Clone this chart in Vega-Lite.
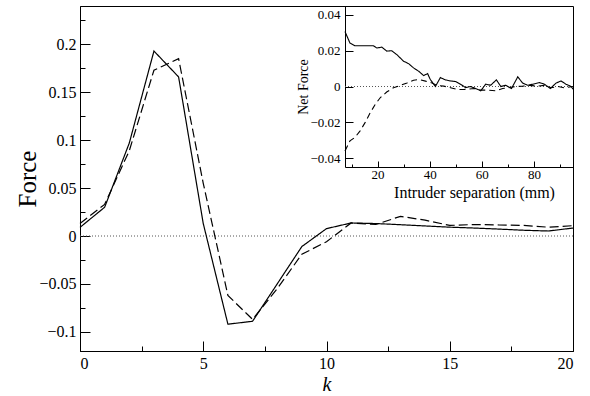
{
  "$schema": "https://vega.github.io/schema/vega-lite/v6.json",
  "width": 493,
  "height": 345,
  "autosize": {"type": "none"},
  "padding": {"left": 80, "top": 6, "right": 17, "bottom": 45},
  "background": "white",
  "config": {
    "view": {"stroke": "#000", "strokeWidth": 1},
    "font": "Liberation Serif, Times New Roman, serif",
    "axis": {"grid": false, "domainColor": "#000", "tickColor": "#000", "labelColor": "#000", "titleColor": "#000", "labelFont": "Liberation Serif, Times New Roman, serif", "titleFont": "Liberation Serif, Times New Roman, serif", "titleFontWeight": "normal"}
  },
  "datasets": {
    "main": [
      {"k": 0, "series": "a", "force": 0.009}, {"k": 1, "series": "a", "force": 0.03}, {"k": 2, "series": "a", "force": 0.097}, {"k": 3, "series": "a", "force": 0.193}, {"k": 4, "series": "a", "force": 0.166}, {"k": 5, "series": "a", "force": 0.013}, {"k": 6, "series": "a", "force": -0.092}, {"k": 7, "series": "a", "force": -0.089}, {"k": 8, "series": "a", "force": -0.05}, {"k": 9, "series": "a", "force": -0.011}, {"k": 10, "series": "a", "force": 0.0077}, {"k": 11, "series": "a", "force": 0.0136}, {"k": 12, "series": "a", "force": 0.013}, {"k": 13, "series": "a", "force": 0.0118}, {"k": 14, "series": "a", "force": 0.0105}, {"k": 15, "series": "a", "force": 0.0092}, {"k": 16, "series": "a", "force": 0.0083}, {"k": 17, "series": "a", "force": 0.0072}, {"k": 18, "series": "a", "force": 0.006}, {"k": 19, "series": "a", "force": 0.0052}, {"k": 20, "series": "a", "force": 0.0083},
      {"k": 0, "series": "b", "force": 0.013}, {"k": 1, "series": "b", "force": 0.033}, {"k": 2, "series": "b", "force": 0.089}, {"k": 3, "series": "b", "force": 0.173}, {"k": 4, "series": "b", "force": 0.185}, {"k": 5, "series": "b", "force": 0.055}, {"k": 6, "series": "b", "force": -0.062}, {"k": 7, "series": "b", "force": -0.087}, {"k": 8, "series": "b", "force": -0.055}, {"k": 9, "series": "b", "force": -0.019}, {"k": 10, "series": "b", "force": -0.006}, {"k": 11, "series": "b", "force": 0.0136}, {"k": 12, "series": "b", "force": 0.012}, {"k": 13, "series": "b", "force": 0.0205}, {"k": 14, "series": "b", "force": 0.0165}, {"k": 15, "series": "b", "force": 0.011}, {"k": 16, "series": "b", "force": 0.012}, {"k": 17, "series": "b", "force": 0.0115}, {"k": 18, "series": "b", "force": 0.011}, {"k": 19, "series": "b", "force": 0.0092}, {"k": 20, "series": "b", "force": 0.0108}
    ],
    "inset": [
      {"sep": 7.5, "series": "a", "net": 0.0307}, {"sep": 9.4, "series": "a", "net": 0.0243}, {"sep": 11.3, "series": "a", "net": 0.0228}, {"sep": 18.4, "series": "a", "net": 0.0228}, {"sep": 19.7, "series": "a", "net": 0.0215}, {"sep": 21.6, "series": "a", "net": 0.022}, {"sep": 23.5, "series": "a", "net": 0.0198}, {"sep": 25.4, "series": "a", "net": 0.02}, {"sep": 27.4, "series": "a", "net": 0.0178}, {"sep": 30, "series": "a", "net": 0.0141}, {"sep": 31.9, "series": "a", "net": 0.0128}, {"sep": 33.8, "series": "a", "net": 0.0104}, {"sep": 35.8, "series": "a", "net": 0.0085}, {"sep": 37.7, "series": "a", "net": 0.0061}, {"sep": 39.2, "series": "a", "net": 0.0072}, {"sep": 40.2, "series": "a", "net": 0.004}, {"sep": 42.2, "series": "a", "net": 0.0}, {"sep": 44.1, "series": "a", "net": 0.005}, {"sep": 46, "series": "a", "net": 0.0037}, {"sep": 48, "series": "a", "net": 0.0031}, {"sep": 49.9, "series": "a", "net": 0.0028}, {"sep": 51.8, "series": "a", "net": 0.0013}, {"sep": 53.8, "series": "a", "net": -0.0006}, {"sep": 55.7, "series": "a", "net": 0.0}, {"sep": 57.6, "series": "a", "net": -0.0011}, {"sep": 59.6, "series": "a", "net": -0.0024}, {"sep": 61.5, "series": "a", "net": 0.0013}, {"sep": 63.4, "series": "a", "net": 0.0007}, {"sep": 65.6, "series": "a", "net": 0.0037}, {"sep": 67.3, "series": "a", "net": 0.0}, {"sep": 69.2, "series": "a", "net": 0.0007}, {"sep": 71.4, "series": "a", "net": -0.0011}, {"sep": 73.8, "series": "a", "net": 0.0054}, {"sep": 75.7, "series": "a", "net": 0.0019}, {"sep": 77.6, "series": "a", "net": 0.0007}, {"sep": 79.6, "series": "a", "net": 0.0013}, {"sep": 82.1, "series": "a", "net": 0.0022}, {"sep": 84, "series": "a", "net": 0.0013}, {"sep": 86.3, "series": "a", "net": -0.0011}, {"sep": 88.5, "series": "a", "net": 0.0019}, {"sep": 90.4, "series": "a", "net": 0.0031}, {"sep": 92.3, "series": "a", "net": 0.0013}, {"sep": 94.3, "series": "a", "net": 0.0}, {"sep": 95, "series": "a", "net": -0.0015},
      {"sep": 7.5, "series": "b", "net": -0.036}, {"sep": 9.4, "series": "b", "net": -0.0304}, {"sep": 11.3, "series": "b", "net": -0.0285}, {"sep": 13.3, "series": "b", "net": -0.0248}, {"sep": 15.2, "series": "b", "net": -0.0202}, {"sep": 17.2, "series": "b", "net": -0.0146}, {"sep": 19.1, "series": "b", "net": -0.01}, {"sep": 21, "series": "b", "net": -0.0063}, {"sep": 23.5, "series": "b", "net": -0.0031}, {"sep": 26.1, "series": "b", "net": -0.0007}, {"sep": 28.7, "series": "b", "net": 0.0006}, {"sep": 31.3, "series": "b", "net": 0.002}, {"sep": 33.8, "series": "b", "net": 0.0035}, {"sep": 35.8, "series": "b", "net": 0.0039}, {"sep": 38.4, "series": "b", "net": 0.003}, {"sep": 40.9, "series": "b", "net": 0.002}, {"sep": 42.8, "series": "b", "net": 0.0006}, {"sep": 45.4, "series": "b", "net": 0.0002}, {"sep": 48, "series": "b", "net": -0.0007}, {"sep": 50.6, "series": "b", "net": -0.0017}, {"sep": 53.1, "series": "b", "net": -0.0017}, {"sep": 57, "series": "b", "net": -0.0011}, {"sep": 59.6, "series": "b", "net": -0.002}, {"sep": 62.1, "series": "b", "net": -0.002}, {"sep": 65.4, "series": "b", "net": -0.0024}, {"sep": 68, "series": "b", "net": -0.0011}, {"sep": 70.6, "series": "b", "net": -0.0006}, {"sep": 73.1, "series": "b", "net": 0.0}, {"sep": 75.7, "series": "b", "net": 0.0002}, {"sep": 78.3, "series": "b", "net": 0.0006}, {"sep": 81.5, "series": "b", "net": 0.0002}, {"sep": 84, "series": "b", "net": 0.0006}, {"sep": 86.6, "series": "b", "net": -0.0007}, {"sep": 89.2, "series": "b", "net": 0.0}, {"sep": 91.7, "series": "b", "net": -0.0007}, {"sep": 95, "series": "b", "net": 0.0}
    ]
  },
  "layer": [
    {
      "data": {"values": [{}]},
      "mark": {"type": "rule", "strokeDash": [1, 2], "color": "#555", "strokeWidth": 1},
      "encoding": {
        "y": {"datum": 0, "type": "quantitative", "scale": {"domain": [-0.12, 0.24], "nice": false, "zero": false}, "axis": null}
      }
    },
    {
      "data": {"name": "main"},
      "mark": {"type": "line", "color": "#000", "strokeWidth": 1.2},
      "encoding": {
        "x": {"field": "k", "type": "quantitative", "scale": {"domain": [0, 20], "nice": false, "zero": false},
          "axis": {"orient": "bottom", "values": [0, 5, 10, 15, 20], "tickSize": -10, "labelPadding": 14, "labelFont": "Liberation Serif, Times New Roman, serif", "labelFontSize": 16, "title": "k", "titleFont": "Liberation Serif, Times New Roman, serif", "titleFontSize": 20, "titleFontStyle": "italic", "titleBaseline": "alphabetic", "titleY": 39}},
        "y": {"field": "force", "type": "quantitative", "scale": {"domain": [-0.12, 0.24], "nice": false, "zero": false},
          "axis": {"orient": "left", "values": [-0.1, -0.05, 0, 0.05, 0.1, 0.15, 0.2], "format": "~g", "tickSize": -10, "labelPadding": 14, "labelFont": "Liberation Serif, Times New Roman, serif", "labelFontSize": 16, "title": "Force", "titleFont": "Liberation Serif, Times New Roman, serif", "titleFontSize": 25, "titleX": -45, "titleBaseline": "alphabetic"}},
        "strokeDash": {"field": "series", "type": "nominal", "scale": {"domain": ["a", "b"], "range": [[1, 0], [9, 4]]}, "legend": null}
      }
    },
    {
      "data": {"values": [{}]},
      "mark": {"type": "point", "opacity": 0},
      "encoding": {
        "x": {"datum": 0, "type": "quantitative", "scale": {"domain": [0, 20], "nice": false, "zero": false},
          "axis": {"orient": "bottom", "values": [2.5, 7.5, 12.5, 17.5], "tickSize": -5, "labels": false, "domain": false, "title": null}},
        "y": {"datum": 0, "type": "quantitative", "scale": {"domain": [-0.12, 0.24], "nice": false, "zero": false},
          "axis": {"orient": "left", "values": [-0.075, -0.025, 0.025, 0.075, 0.125, 0.175, 0.225], "tickSize": -5, "labels": false, "domain": false, "title": null}}
      }
    },
    {
      "data": {"values": [{}]},
      "mark": {"type": "rule", "strokeDash": [1, 2], "color": "#555", "strokeWidth": 1},
      "encoding": {
        "x": {"datum": 7.5, "type": "quantitative", "scale": {"domain": [7.5, 95], "range": [265, 493], "nice": false, "zero": false}, "axis": null},
        "x2": {"datum": 95},
        "y": {"datum": 0, "type": "quantitative", "scale": {"domain": [-0.045, 0.045], "range": [161, 0], "nice": false, "zero": false}, "axis": null}
      }
    },
    {
      "data": {"name": "inset"},
      "mark": {"type": "line", "color": "#000", "strokeWidth": 1.1},
      "encoding": {
        "x": {"field": "sep", "type": "quantitative", "scale": {"domain": [7.5, 95], "range": [265, 493], "nice": false, "zero": false},
          "axis": {"orient": "bottom", "offset": -184, "values": [20, 40, 60, 80], "tickSize": -6, "labelPadding": 7, "labelFont": "Liberation Serif, Times New Roman, serif", "labelFontSize": 13, "title": "Intruder separation (mm)", "titleFont": "Liberation Serif, Times New Roman, serif", "titleFontSize": 16, "titleX": 394, "titleY": 30, "titleBaseline": "alphabetic"}},
        "y": {"field": "net", "type": "quantitative", "scale": {"domain": [-0.045, 0.045], "range": [161, 0], "nice": false, "zero": false},
          "axis": {"orient": "left", "offset": -265, "values": [-0.04, -0.02, 0, 0.02, 0.04], "format": "~g", "tickSize": -8, "labelPadding": 13, "labelFont": "Liberation Serif, Times New Roman, serif", "labelFontSize": 13, "title": "Net Force", "titleFont": "Liberation Serif, Times New Roman, serif", "titleFontSize": 14, "titleX": -38, "titleBaseline": "alphabetic"}},
        "strokeDash": {"field": "series", "type": "nominal", "scale": {"domain": ["a", "b"], "range": [[1, 0], [6, 4]]}, "legend": null}
      }
    },
    {
      "data": {"values": [{}]},
      "mark": {"type": "point", "opacity": 0},
      "encoding": {
        "x": {"datum": 10, "type": "quantitative", "scale": {"domain": [7.5, 95], "range": [265, 493], "nice": false, "zero": false},
          "axis": {"orient": "bottom", "offset": -184, "values": [10, 30, 50, 70, 90], "tickSize": -3, "labels": false, "domain": false, "title": null}}
      }
    }
  ],
  "resolve": {
    "scale": {"x": "independent", "y": "independent", "strokeDash": "independent"},
    "axis": {"x": "independent", "y": "independent"}
  }
}
